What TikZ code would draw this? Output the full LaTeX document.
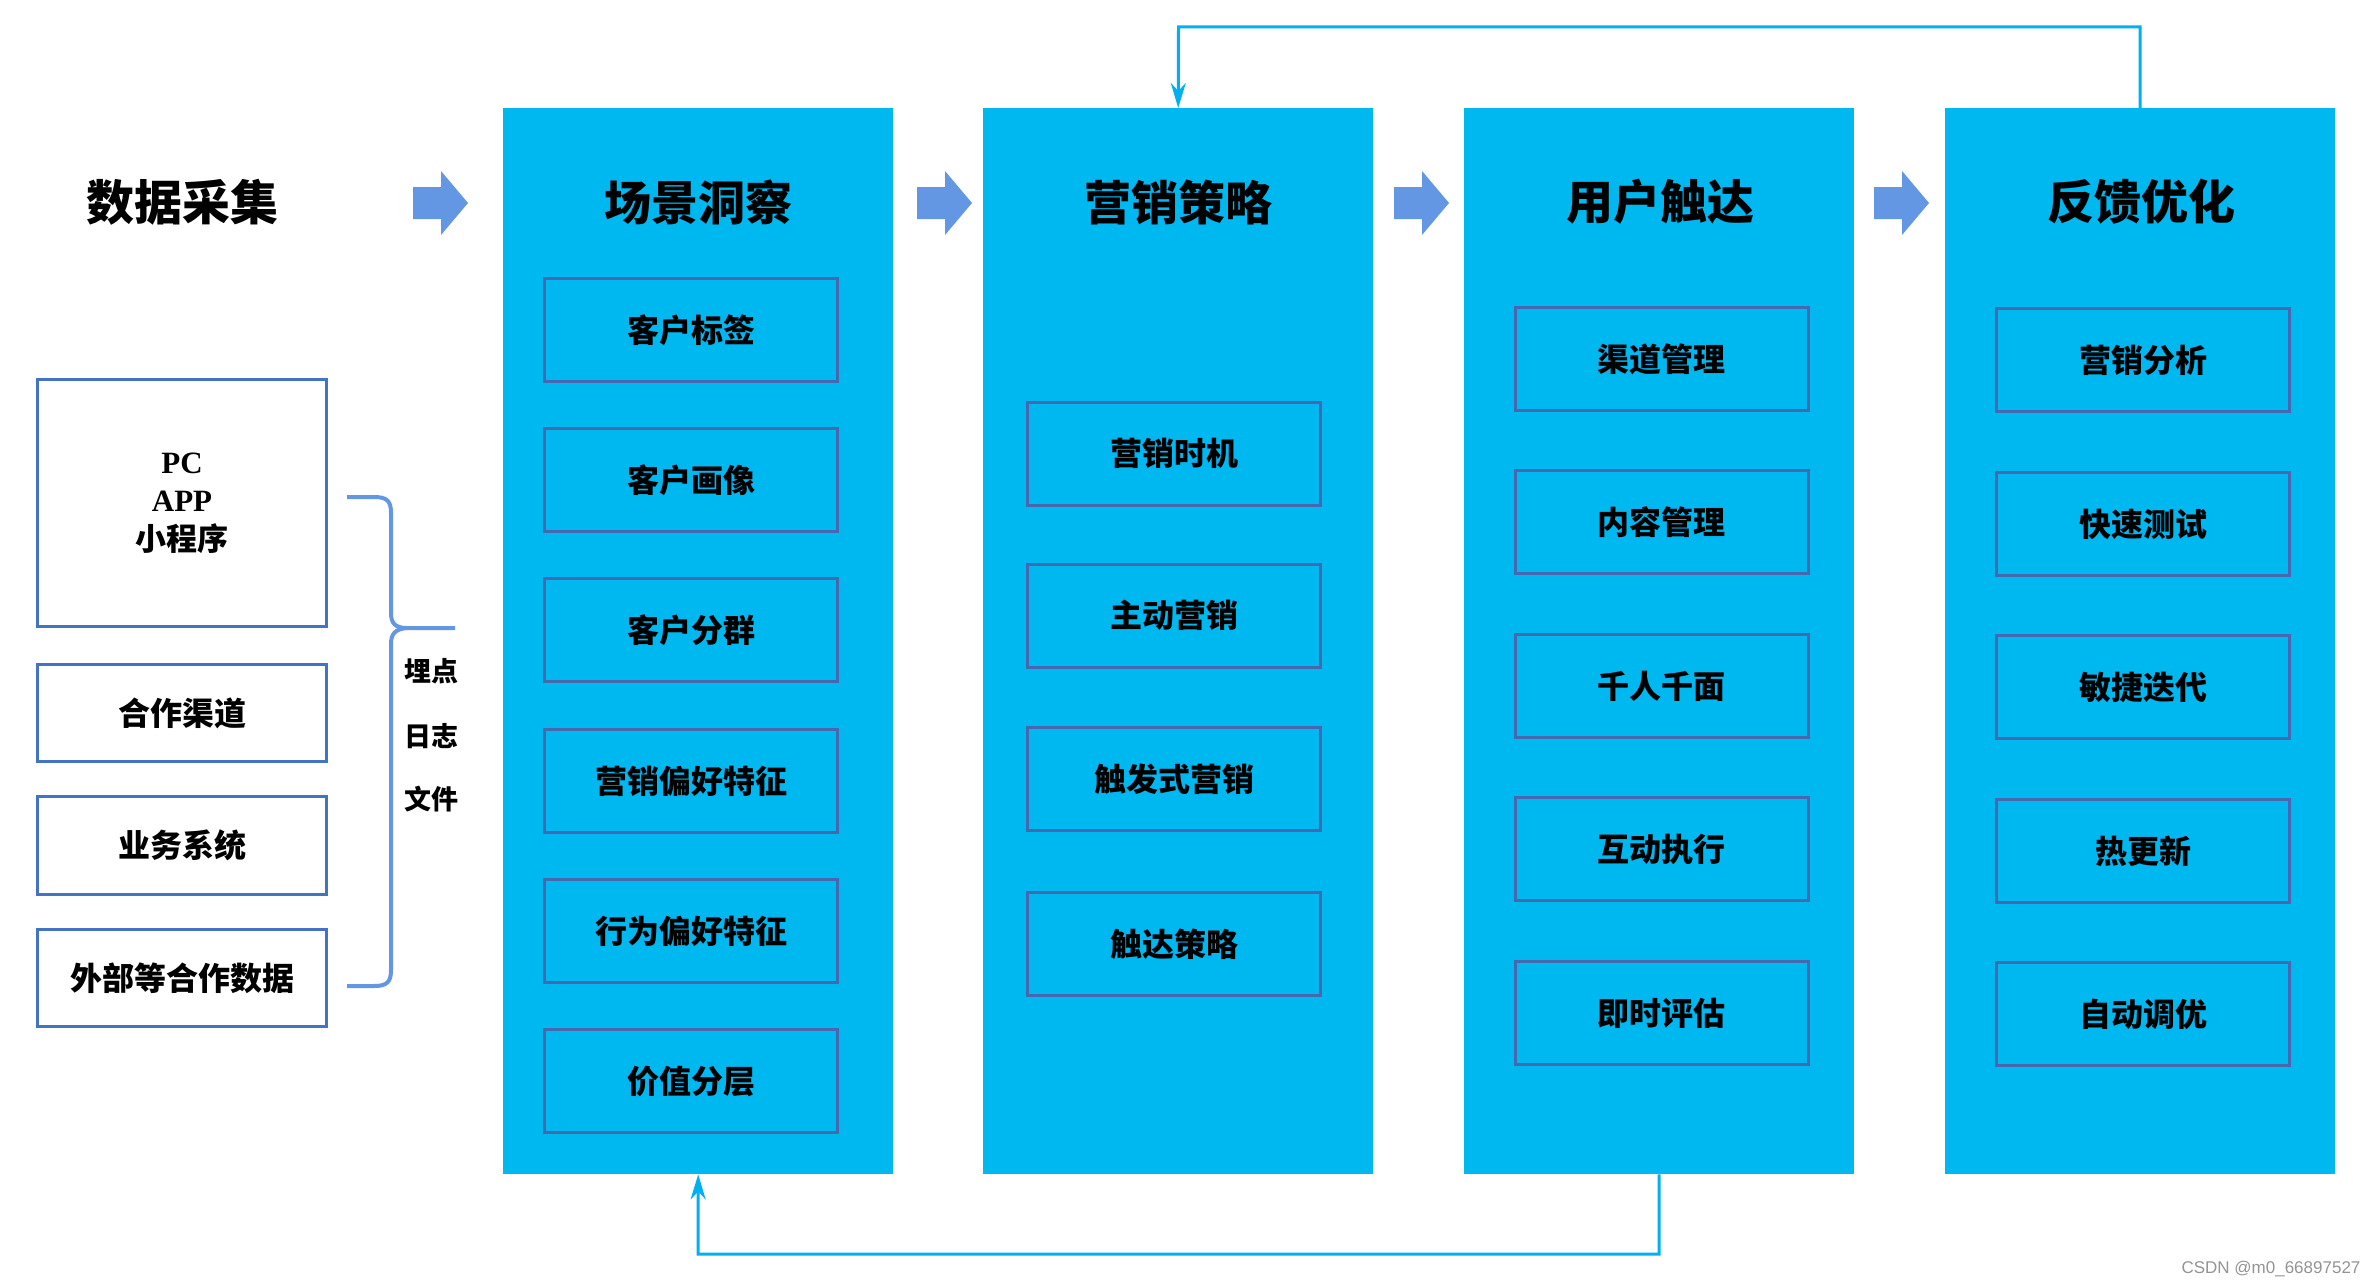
\documentclass[tikz,border=0pt]{standalone}
\usepackage{fontspec}
\setmainfont{Liberation Serif}
\newfontfamily\cjk{Noto Sans CJK SC}
\newfontfamily\wmfont{Liberation Sans}
\usetikzlibrary{arrows.meta}
\definecolor{colcyan}{RGB}{0,184,240}
\definecolor{arrowblue}{RGB}{99,151,227}
\definecolor{innerborder}{RGB}{70,104,176}
\definecolor{leftborder}{RGB}{68,114,196}
\definecolor{connblue}{RGB}{0,176,240}
\begin{document}
\begin{tikzpicture}[x=1pt,y=-1pt,
  colbox/.style={fill=colcyan, minimum width=390pt, minimum height=1066pt, inner sep=0pt, anchor=north west},
  inbox/.style={draw=innerborder, line width=3pt, minimum width=293pt, minimum height=103pt, inner sep=0pt,
    font=\cjk\bfseries\fontsize{32}{34}\selectfont},
  leftbox/.style={draw=leftborder, line width=3pt, minimum width=289pt, inner sep=0pt,
    font=\cjk\bfseries\fontsize{32}{34}\selectfont},
  coltitle/.style={font=\cjk\bfseries\fontsize{47}{50}\selectfont, inner sep=0pt},
  sidelabel/.style={font=\cjk\bfseries\fontsize{27}{28}\selectfont, inner sep=0pt},
  conn/.style={draw=connblue, line width=3pt},
  flowarrow/.style={fill=arrowblue}
]
\useasboundingbox (0,0) rectangle (2374,1287);
\fill[white] (0,0) rectangle (2374,1287);

% columns
\node[colbox] (c1) at (503,108) {};
\node[colbox] (c2) at (983,108) {};
\node[colbox] (c3) at (1464,108) {};
\node[colbox] (c4) at (1945,108) {};

% titles
\node[coltitle] (t0) at (182,202) {\fontsize{48}{50}\selectfont 数据采集};
\node[coltitle] (t1) at (698,202) {场景洞察};
\node[coltitle] (t2) at (1178,202) {营销策略};
\node[coltitle] (t3) at (1660,202) {用户触达};
\node[coltitle] (t4) at (2141,202) {反馈优化};

% flow arrows
\foreach \x/\n in {413/a1, 917/a2, 1394/a3, 1874/a4}{
  \fill[flowarrow] (\x,187) -- (\x+28,187) -- (\x+28,171) -- (\x+55,203) -- (\x+28,235) -- (\x+28,219) -- (\x,219) -- cycle;
}

% left boxes
\node[leftbox, minimum height=247pt, align=center, font=\cjk\bfseries\fontsize{31}{38.5}\selectfont] (s1) at (182,503)
  {{\rmfamily\bfseries PC}\\{\rmfamily\bfseries APP}\\小程序};
\node[leftbox, minimum height=97pt] (s2) at (182,713) {合作渠道};
\node[leftbox, minimum height=98pt] (s3) at (182,845.5) {业务系统};
\node[leftbox, minimum height=97pt] (s4) at (182,978) {外部等合作数据};

% brace
\draw[arrowblue, line width=4pt] (347,497) -- (374,497) .. controls (387,497) and (391,501) .. (391,513)
  -- (391,613) .. controls (391,623) and (395,628) .. (407,628) -- (455,628);
\draw[arrowblue, line width=4pt] (407,628) .. controls (395,629) and (391,634) .. (391,644)
  -- (391,970) .. controls (391,982) and (387,986) .. (374,986) -- (347,986);
\node[sidelabel] (l1) at (431,671) {埋点};
\node[sidelabel] (l2) at (431,736) {日志};
\node[sidelabel] (l3) at (431,799) {文件};

% column 1 boxes
\node[inbox] (b11) at (691,330) {客户标签};
\node[inbox] (b12) at (691,480) {客户画像};
\node[inbox] (b13) at (691,630) {客户分群};
\node[inbox] (b14) at (691,781) {营销偏好特征};
\node[inbox] (b15) at (691,931) {行为偏好特征};
\node[inbox] (b16) at (691,1081) {价值分层};

% column 2 boxes
\node[inbox] (b21) at (1174,453.5) {营销时机};
\node[inbox] (b22) at (1174,615.5) {主动营销};
\node[inbox] (b23) at (1174,779) {触发式营销};
\node[inbox] (b24) at (1174,944) {触达策略};

% column 3 boxes
\node[inbox] (b31) at (1661.5,359) {渠道管理};
\node[inbox] (b32) at (1661.5,522) {内容管理};
\node[inbox] (b33) at (1661.5,686) {千人千面};
\node[inbox] (b34) at (1661.5,849) {互动执行};
\node[inbox] (b35) at (1661.5,1013) {即时评估};

% column 4 boxes
\node[inbox] (b41) at (2143,360) {营销分析};
\node[inbox] (b42) at (2143,524) {快速测试};
\node[inbox] (b43) at (2143,687) {敏捷迭代};
\node[inbox] (b44) at (2143,851) {热更新};
\node[inbox] (b45) at (2143,1014) {自动调优};

% feedback connectors
\coordinate (topturn) at (1178.5,27);
\coordinate (botturn) at (698,1254);
\draw[conn, -{Stealth[length=25pt,width=15pt,inset=8pt]}] (c4.north) |- (topturn) -- (c2.north);
\draw[conn, -{Stealth[length=25pt,width=15pt,inset=8pt]}] (c3.south) |- (botturn) -- (c1.south);

% watermark
\node[font=\wmfont\fontsize{17}{18}\selectfont, text=black!42, inner sep=0pt] (wm) at (2271,1269) {CSDN @m0\_66897527};
\end{tikzpicture}
\end{document}
